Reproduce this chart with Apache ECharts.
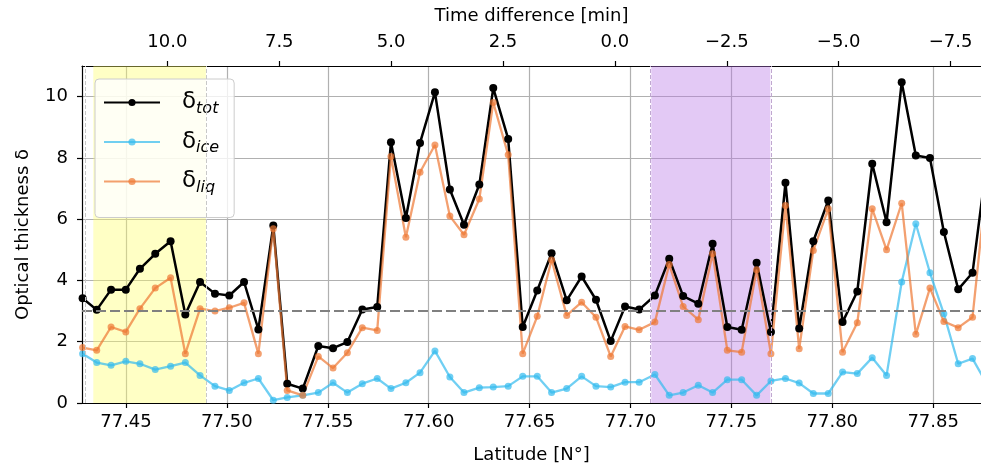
<!DOCTYPE html>
<html><head><meta charset="utf-8">
<script src="https://cdn.jsdelivr.net/npm/echarts@6/dist/echarts.min.js"></script>
<style>html,body{margin:0;padding:0;background:#fff}#c{width:981px;height:470px}</style>
</head><body><div id="c"></div>
<script>
// ---- data ----
const latitude = [77.4285, 77.4355, 77.4426, 77.4499, 77.4569, 77.4645, 77.4721, 77.4794, 77.4867, 77.4941,
  77.5012, 77.5085, 77.5156, 77.5230, 77.5299, 77.5376, 77.5453, 77.5526, 77.5597, 77.5671,
  77.5745, 77.5813, 77.5887, 77.5957, 77.6031, 77.6105, 77.6175, 77.6251, 77.6320, 77.6394,
  77.6466, 77.6538, 77.6609, 77.6684, 77.6758, 77.6829, 77.6902, 77.6973, 77.7043, 77.7121,
  77.7192, 77.7261, 77.7336, 77.7407, 77.7480, 77.7551, 77.7625, 77.7696, 77.7768, 77.7836,
  77.7906, 77.7980, 77.8051, 77.8124, 77.8198, 77.8269, 77.8344, 77.8414, 77.8484, 77.8553,
  77.8624, 77.8695, 77.8768];
const deltaTot = [3.42, 3.04, 3.70, 3.70, 4.38, 4.87, 5.28, 2.89, 3.95, 3.57, 3.51, 3.95, 2.40, 5.79, 0.63, 0.47, 1.86,
  1.79, 1.99, 3.05, 3.13, 8.51, 6.04, 8.49, 10.14, 6.97, 5.82, 7.13, 10.28, 8.62, 2.48, 3.67, 4.89, 3.35, 4.13, 3.37, 2.02, 3.15, 3.05,
  3.51, 4.71, 3.49, 3.24, 5.20, 2.48, 2.39, 4.58, 2.32, 7.19, 2.43, 5.28, 6.61, 2.64, 3.64, 7.81, 5.90, 10.47, 8.08, 8.00, 5.58, 3.71, 4.25, 8.0];
const deltaIce = [1.61, 1.32, 1.23, 1.36, 1.28, 1.09, 1.20, 1.32, 0.90, 0.55, 0.41, 0.66, 0.80, 0.09, 0.18, 0.25, 0.34,
  0.66, 0.34, 0.63, 0.80, 0.47, 0.66, 0.99, 1.70, 0.85, 0.34, 0.50, 0.52, 0.55, 0.87, 0.87, 0.34, 0.47, 0.87, 0.55, 0.52, 0.68, 0.68,
  0.93, 0.25, 0.34, 0.58, 0.34, 0.76, 0.76, 0.25, 0.72, 0.80, 0.65, 0.31, 0.31, 1.01, 0.96, 1.48, 0.90, 3.95, 5.85, 4.25, 2.91, 1.28, 1.45, 0.6];
const deltaLiq = [1.81, 1.72, 2.48, 2.32, 3.08, 3.75, 4.09, 1.61, 3.08, 3.00, 3.11, 3.27, 1.61, 5.69, 0.41, 0.25, 1.52,
  1.14, 1.64, 2.46, 2.37, 8.05, 5.41, 7.53, 8.42, 6.10, 5.49, 6.66, 9.81, 8.10, 1.61, 2.83, 4.67, 2.86, 3.29, 2.80, 1.52, 2.50, 2.39,
  2.64, 4.52, 3.15, 2.72, 4.87, 1.72, 1.66, 4.35, 1.61, 6.45, 1.77, 4.98, 6.34, 1.66, 2.62, 6.34, 5.00, 6.52, 2.24, 3.75, 2.66, 2.46, 2.80, 7.4];

const latTicks = [77.45, 77.50, 77.55, 77.60, 77.65, 77.70, 77.75, 77.80, 77.85];
const timeTicks = [10, 7.5, 5, 2.5, 0, -2.5, -5, -7.5];
const yTicks = [0, 2, 4, 6, 8, 10];
const latRange = [77.4282, 77.8737];
const timeRange = [-8.18, 11.907];
const yRange = [0, 11];
const yellowSpan = [77.4338, 77.4896];
const purpleSpan = [77.7103, 77.7693];
const threshold = 3;
const seriesNames = ['tot', 'ice', 'liq'];

const FONT = 'DejaVu Sans';
const pairs = vals => latitude.map((x, i) => [x, vals[i]]);

const chart = echarts.init(document.getElementById('c'), null, {renderer: 'canvas'});
const option = {
  animation: false,
  backgroundColor: '#ffffff',
  textStyle: {fontFamily: FONT},
  grid: {left: 82, right: 0, top: 66, bottom: 67, containLabel: false, outerBoundsMode: 'none'},
  legend: {
    orient: 'vertical', left: 95, top: 79,
    padding: [12, 15, 22, 8],
    backgroundColor: 'rgba(255,255,255,0.8)',
    borderColor: '#cccccc', borderWidth: 1, borderRadius: 4,
    itemWidth: 56, itemHeight: 9, itemGap: 14,
    data: seriesNames,
    formatter: name => '{d|δ}{s|' + name + '}',
    textStyle: {
      color: '#000',
      rich: {
        d: {fontFamily: FONT, fontSize: 23, lineHeight: 28, color: '#000', padding: [0, 0, 0, 17]},
        s: {fontFamily: FONT, fontSize: 16, fontStyle: 'italic', lineHeight: 17, color: '#000', verticalAlign: 'bottom'}
      }
    }
  },
  xAxis: [{
    type: 'value', position: 'bottom', min: latRange[0], max: latRange[1],
    name: 'Latitude [N°]', nameLocation: 'middle', nameGap: 43,
    nameTextStyle: {fontFamily: FONT, fontSize: 18, color: '#000'},
    axisLine: {show: true, onZero: false, lineStyle: {color: '#000', width: 1.2}},
    axisTick: {show: true, customValues: latTicks, length: 5, lineStyle: {color: '#000', width: 1.2}},
    axisLabel: {customValues: latTicks, formatter: v => v.toFixed(2), fontFamily: FONT, fontSize: 18, color: '#000', margin: 10},
    splitLine: {show: true, lineStyle: {color: '#b0b0b0', width: 1.2}}
  }, {
    type: 'value', position: 'top', inverse: true, min: timeRange[0], max: timeRange[1],
    name: 'Time difference [min]', nameLocation: 'middle', nameGap: 41,
    nameTextStyle: {fontFamily: FONT, fontSize: 18, color: '#000'},
    axisLine: {show: true, onZero: false, lineStyle: {color: '#000', width: 1.2}},
    axisTick: {show: true, customValues: timeTicks, length: 5, lineStyle: {color: '#000', width: 1.2}},
    axisLabel: {customValues: timeTicks, formatter: v => (v < 0 ? '\u2212' : '') + Math.abs(v).toFixed(1),
      fontFamily: FONT, fontSize: 18, color: '#000', margin: 15},
    splitLine: {show: false}
  }],
  yAxis: {
    type: 'value', min: yRange[0], max: yRange[1],
    name: 'Optical thickness δ', nameLocation: 'middle', nameGap: 50, nameRotate: 90,
    nameTextStyle: {fontFamily: FONT, fontSize: 18, color: '#000'},
    axisLine: {show: true, onZero: false, lineStyle: {color: '#000', width: 1.2}},
    axisTick: {show: true, customValues: yTicks, length: 5, lineStyle: {color: '#000', width: 1.2}},
    axisLabel: {customValues: yTicks, fontFamily: FONT, fontSize: 18, color: '#000', margin: 14},
    splitLine: {show: true, lineStyle: {color: '#b0b0b0', width: 1.2}}
  },
  series: [{
    name: 'tot', type: 'line', xAxisIndex: 0, data: pairs(deltaTot),
    symbol: 'circle', symbolSize: 8, showSymbol: true, clip: true,
    itemStyle: {color: '#000000'}, lineStyle: {color: '#000000', width: 2.5},
    markArea: {
      silent: true,
      data: [
        [{xAxis: yellowSpan[0], itemStyle: {color: 'rgba(255,255,110,0.4)'}}, {xAxis: yellowSpan[1]}],
        [{xAxis: purpleSpan[0], itemStyle: {color: 'rgba(186,120,230,0.4)'}}, {xAxis: purpleSpan[1]}]
      ]
    },
    markLine: {
      silent: true, symbol: ['none', 'none'], label: {show: false},
      data: [
        {yAxis: threshold, lineStyle: {color: '#808080', width: 2.2, type: [10, 4]}},
        {xAxis: yellowSpan[0], lineStyle: {color: '#c8c8c8', width: 1, type: [4, 2]}},
        {xAxis: yellowSpan[1], lineStyle: {color: '#c8c8c8', width: 1, type: [4, 2]}},
        {xAxis: purpleSpan[0], lineStyle: {color: '#c0a8d0', width: 1, type: [4, 2]}},
        {xAxis: purpleSpan[1], lineStyle: {color: '#c0a8d0', width: 1, type: [4, 2]}}
      ]
    }
  }, {
    name: 'ice', type: 'line', xAxisIndex: 0, data: pairs(deltaIce),
    symbol: 'circle', symbolSize: 7, showSymbol: true, clip: true,
    itemStyle: {color: '#33bbee', opacity: 0.7}, lineStyle: {color: '#33bbee', width: 2.3, opacity: 0.7}
  }, {
    name: 'liq', type: 'line', xAxisIndex: 0, data: pairs(deltaLiq),
    symbol: 'circle', symbolSize: 7, showSymbol: true, clip: true,
    itemStyle: {color: '#ee7733', opacity: 0.7}, lineStyle: {color: '#ee7733', width: 2.3, opacity: 0.7}
  }]
};
chart.setOption(option);
</script>
</body></html>
